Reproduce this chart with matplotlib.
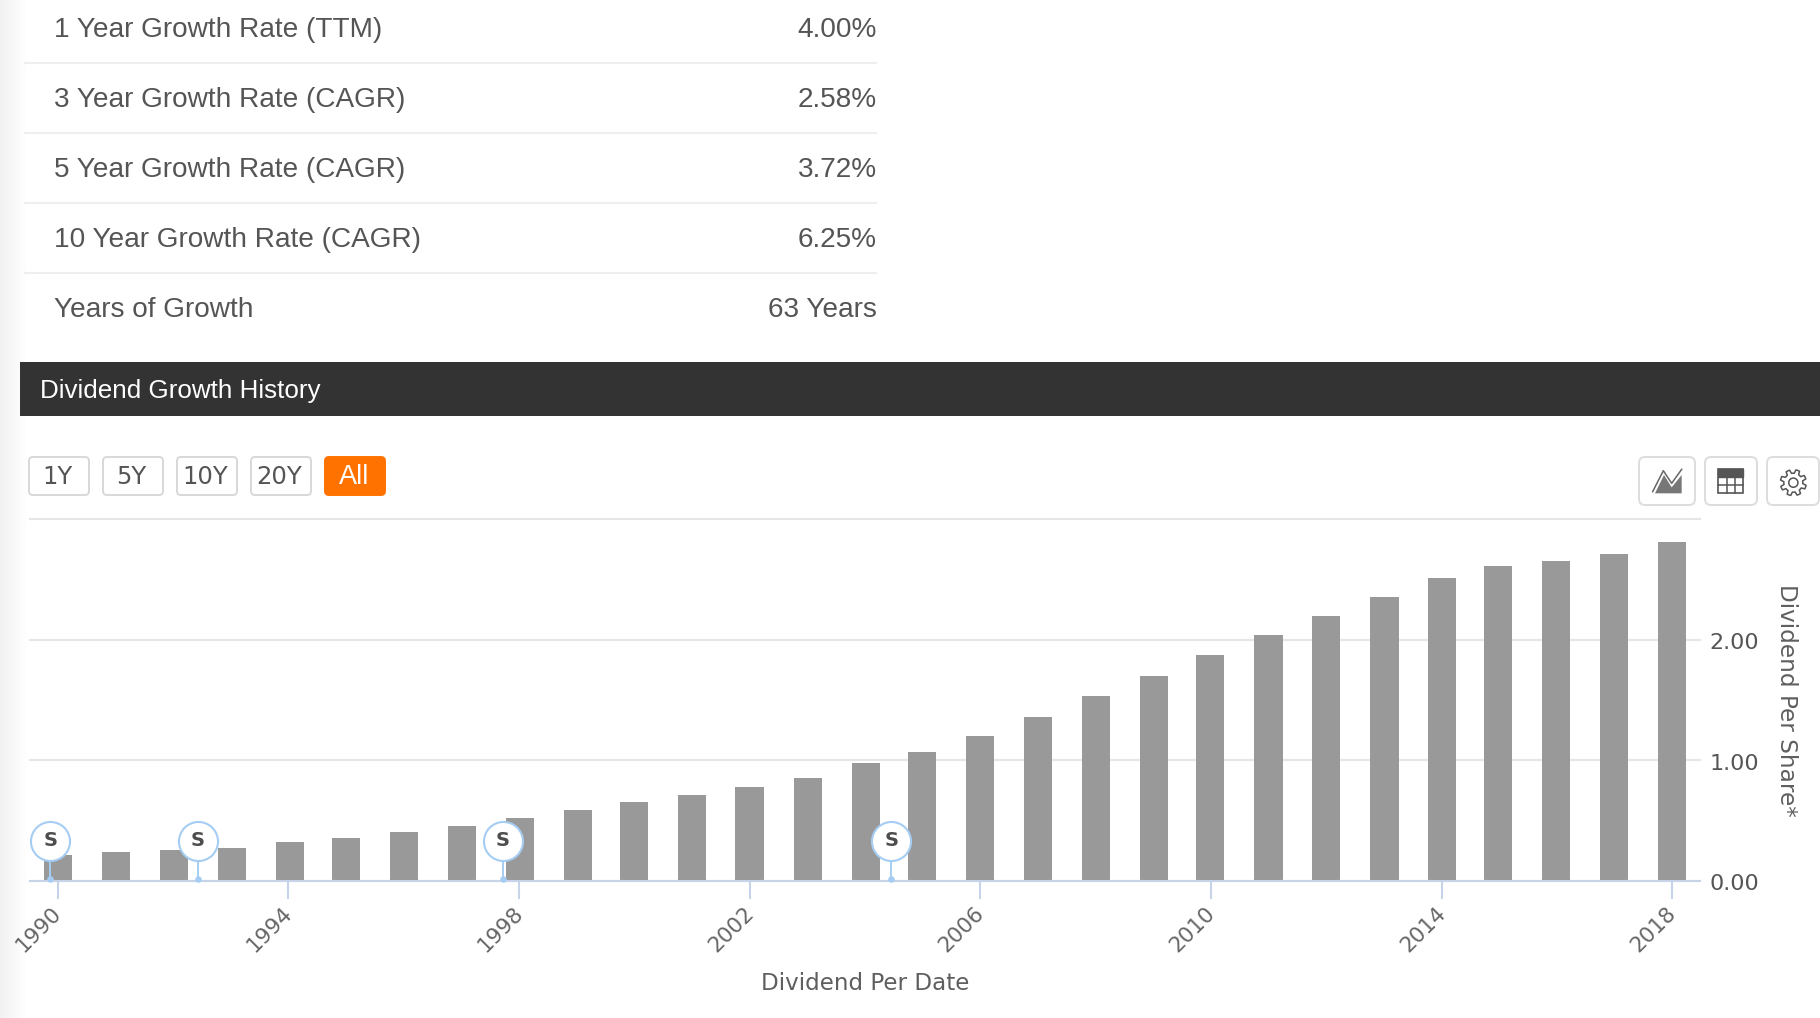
import numpy as np
import matplotlib
matplotlib.use("Agg")
import matplotlib.pyplot as plt
from matplotlib.patches import Rectangle, FancyBboxPatch, Polygon, Circle
from matplotlib.transforms import ScaledTranslation

# ---- data ----
metric_names = ["1 Year Growth Rate (TTM)", "3 Year Growth Rate (CAGR)", "5 Year Growth Rate (CAGR)",
                "10 Year Growth Rate (CAGR)", "Years of Growth"]
metric_values = ["4.00%", "2.58%", "3.72%", "6.25%", "63 Years"]
range_buttons = ["1Y", "5Y", "10Y", "20Y", "All"]
section_title = "Dividend Growth History"

bar_dates = [1990.00, 1991.01, 1992.02, 1993.02, 1994.03, 1995.00, 1996.00, 1997.01, 1998.02, 1999.02,
             2000.00, 2001.00, 2002.00, 2003.01, 2004.02, 2004.99, 2005.99, 2007.00, 2008.01, 2009.01,
             2009.99, 2011.00, 2012.00, 2013.01, 2014.01, 2014.98, 2015.99, 2016.99, 2018.00]
dividends = [0.217, 0.24, 0.255, 0.27, 0.32, 0.355, 0.405, 0.455, 0.52, 0.59,
             0.655, 0.71, 0.775, 0.855, 0.975, 1.07, 1.205, 1.355, 1.535, 1.70,
             1.87, 2.035, 2.20, 2.35, 2.51, 2.61, 2.65, 2.71, 2.81]
split_dates = [1989.875, 1992.425, 1997.725, 2004.455]
x_ticks = [1990, 1994, 1998, 2002, 2006, 2010, 2014, 2018]
y_ticks = [0, 1, 2, 3]
y_tick_labels = ["0.00", "1.00", "2.00", ""]
x_title = "Dividend Per Date"
y_title = "Dividend Per Share*"

# ---- style ----
W, H = 1820, 1018
TXT = "#555555"
AXC = "#c6d3e8"
GRID = "#e6e6e6"
HELV = "Liberation Sans"
LUC = "DejaVu Sans"

fig = plt.figure(figsize=(W / 100, H / 100), dpi=100, facecolor="white")

# ---- page furniture in pixel coordinates ----
pg = fig.add_axes([0, 0, 1, 1], zorder=0)
pg.axis("off")
grad = np.linspace(0.945, 1.0, 64).reshape(1, -1)
pg.imshow(grad, extent=[0, 28, H, 0], aspect="auto", cmap="gray", vmin=0, vmax=1, interpolation="bilinear")
pg.set_xlim(0, W)
pg.set_ylim(H, 0)

for i, (name, val) in enumerate(zip(metric_names, metric_values)):
    yc = 30 + 70 * i
    pg.text(54, yc, name, family=HELV, fontsize=20.15, color=TXT, ha="left", va="center")
    pg.text(877, yc, val, family=HELV, fontsize=20.15, color=TXT, ha="right", va="center")
    if i < 4:
        pg.plot([24, 877], [yc + 33, yc + 33], color="#eeeeee", lw=1.5, solid_capstyle="butt")

pg.add_patch(Rectangle((20, 362), W - 20, 54, color="#333333", lw=0))
pg.text(40.5, 391, section_title, family=HELV, fontsize=18.7, color="white", ha="left", va="center")

for i, lab in enumerate(range_buttons):
    x0 = 29 + 74 * i
    active = lab == "All"
    pg.add_patch(FancyBboxPatch((x0, 457), 60, 38, boxstyle="round,pad=0,rounding_size=4",
                                fc="#ff7200" if active else "white",
                                ec="#ff7200" if active else "#d8d8d8", lw=1.4))
    pg.text(x0 + (29 if active else 28), 476.5, lab, family=HELV if active else LUC,
            fontsize=19.5 if active else 17.5,
            color="white" if active else TXT, ha="center", va="center")

for x0, x1 in [(1639, 1695), (1705, 1757), (1767, 1819)]:
    pg.add_patch(FancyBboxPatch((x0, 457), x1 - x0, 48, boxstyle="round,pad=0,rounding_size=6",
                                fc="white", ec="#dddddd", lw=1.4))

# area-chart icon
sx = lambda v: 1600 + v / 3
sy = lambda v: 430 + v / 3
pg.add_patch(Polygon([(sx(a), sy(b)) for a, b in [(165, 190), (192, 135), (215, 172), (245, 135), (245, 190)]],
                     fc="#777777", ec="none"))
pg.plot([sx(a) for a in (158, 190, 215, 245)], [sy(b) for b in (185, 122, 160, 118)], color="#666666", lw=1.1)
# table icon
pg.add_patch(Rectangle((sx(355), sy(118)), 25, 24, fc="white", ec="#555555", lw=1.2))
pg.add_patch(Rectangle((sx(355), sy(118)), 25, 8, fc="#555555", ec="#555555", lw=1))
for v in (380, 405):
    pg.plot([sx(v), sx(v)], [sy(142), sy(190)], color="#555555", lw=1.1)
pg.plot([sx(355), sx(430)], [sy(165), sy(165)], color="#555555", lw=1.1)
# gear icon
gx, gy = sx(580), sy(158)
ang = np.linspace(0, 2 * np.pi, 8 * 8, endpoint=False)
rad = np.where((np.arange(8 * 8) % 8) < 4, 13.0, 9.5)
pg.add_patch(Polygon(np.c_[gx + rad * np.cos(ang + 0.2), gy + rad * np.sin(ang + 0.2)],
                     fc="white", ec="#555555", lw=1.1, joinstyle="round"))
pg.add_patch(Circle((gx, gy), 4.6, fc="white", ec="#555555", lw=1.1))

# ---- the chart ----
L, R, T, B = 30, 1700, 519, 881
ax = fig.add_axes([L / W, 1 - B / H, (R - L) / W, (B - T) / H], zorder=2)
ax.patch.set_alpha(0)
px_per_year = 57.66
ax.set_xlim(1990 - (57.7 - L) / px_per_year, 1990 + (R - 57.7) / px_per_year)
ax.set_ylim(0, 3)

ax.bar(bar_dates, dividends, width=0.49, color="#999999", zorder=3, lw=0)

for s in ("top", "left", "right"):
    ax.spines[s].set_visible(False)
ax.spines["bottom"].set_color(AXC)
ax.spines["bottom"].set_linewidth(1.5)
ax.spines["bottom"].set_zorder(4)

ax.set_xticks(x_ticks)
ax.set_xticklabels([str(v) for v in x_ticks], rotation=45, ha="right", rotation_mode="anchor",
                   family=LUC, fontsize=15.5, color="#666666")
ax.tick_params(axis="x", length=13, width=1.5, color=AXC, pad=3)
shift_x = ScaledTranslation(-4.5 / 72, 0, fig.dpi_scale_trans)
for lab in ax.get_xticklabels():
    lab.set_transform(lab.get_transform() + shift_x)
ax.yaxis.tick_right()
ax.set_yticks(y_ticks)
ax.set_yticklabels(y_tick_labels, family=LUC, fontsize=16, color=TXT)
ax.tick_params(axis="y", length=0, pad=7)
shift_y = ScaledTranslation(0, -1.0 / 72, fig.dpi_scale_trans)
for lab in ax.get_yticklabels():
    lab.set_transform(lab.get_transform() + shift_y)
ax.grid(axis="y", color=GRID, lw=1.5, zorder=1)
ax.set_axisbelow(True)
for gl in ax.get_ygridlines():
    gl.set_clip_on(False)

# split flags
flag_y = 0.332
ax.vlines(split_dates, 0, flag_y, color="#a5cdf3", lw=1.4, zorder=5)
ax.scatter(split_dates, [0.02] * len(split_dates), s=22, marker="o", color="#a5cdf3", zorder=5, lw=0, clip_on=False)
ax.scatter(split_dates, [flag_y] * len(split_dates), s=790, marker="o", facecolor="white", edgecolor="#a5cdf3",
           lw=1.5, zorder=6, clip_on=False)
for d in split_dates:
    ax.text(d, flag_y, "S", family=LUC, fontsize=14, fontweight="bold", color="#4d4d4d",
            ha="center", va="center", zorder=7)

fig.text(865 / W, 1 - 983 / H, x_title, family=LUC, fontsize=16.6, color="#5f5f5f", ha="center", va="center", zorder=5)
fig.text(1787 / W, 1 - 700 / H, y_title, family=LUC, fontsize=16.7, color="#5f5f5f", rotation=270,
         ha="center", va="center", zorder=5)

fig.savefig("out.png", dpi=100, facecolor="white")
